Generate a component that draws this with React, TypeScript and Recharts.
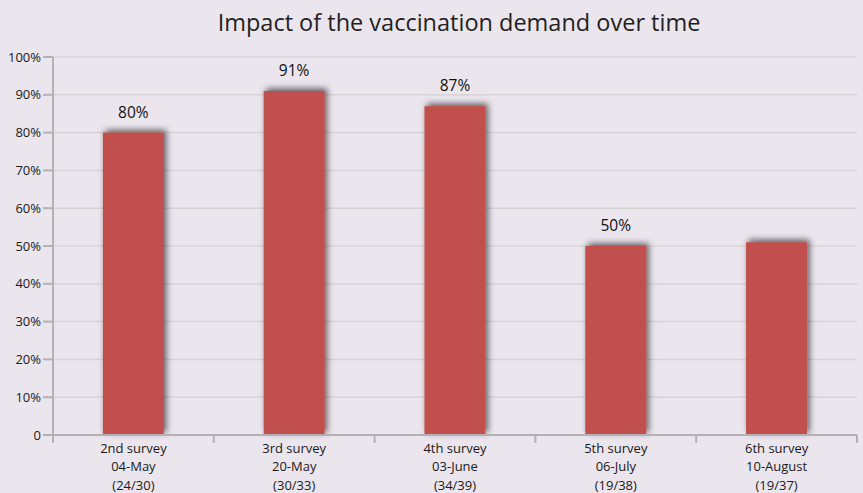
import { BarChart, Bar, XAxis, YAxis, CartesianGrid, LabelList } from "recharts";

const surveys = ["2nd survey", "3rd survey", "4th survey", "5th survey", "6th survey"];
const dates = ["04-May", "20-May", "03-June", "06-July", "10-August"];
const counts = ["(24/30)", "(30/33)", "(34/39)", "(19/38)", "(19/37)"];
const demand = [80, 91, 87, 50, 51];
const barLabels = ["80%", "91%", "87%", "50%", ""];
const yTicks = [0, 10, 20, 30, 40, 50, 60, 70, 80, 90, 100];

const data = surveys.map((s, i) => ({
  survey: s,
  date: dates[i],
  count: counts[i],
  value: demand[i],
  label: barLabels[i],
}));

const FONT = "'Open Sans', 'Noto Sans', sans-serif";
const AXIS = "#b4b0b5";

const XTick = (props: any) => {
  const { x, y, payload, index } = props;
  const half = payload.offset ?? 80;
  const row = data[index] ?? data[0];
  return (
    <g>
      <line x1={x - half} y1={y - 8} x2={x - half} y2={y} stroke={AXIS} strokeWidth={2} />
      {index === data.length - 1 && (
        <line x1={x + half} y1={y - 8} x2={x + half} y2={y} stroke={AXIS} strokeWidth={2} />
      )}
      <text x={x} textAnchor="middle" fontSize={13} fill="#1a1a1a" fontFamily={FONT}>
        <tspan x={x} y={y + 10}>{row.survey}</tspan>
        <tspan x={x} y={y + 28}>{row.date}</tspan>
        <tspan x={x} y={y + 47}>{row.count}</tspan>
      </text>
    </g>
  );
};

const ShadowBar = (props: any) => {
  const { x, y, width, height, fill } = props;
  if (!height) return null;
  return <rect x={x} y={y} width={width} height={height} fill={fill} filter="url(#barShadow)" />;
};

export default function App() {
  return (
    <div
      style={{
        position: "absolute",
        left: 0,
        top: 0,
        width: 863,
        height: 493,
        background: "#ebe5ed",
        overflow: "hidden",
      }}
    >
      <div
        style={{
          position: "absolute",
          top: 6,
          left: 0,
          width: 918,
          textAlign: "center",
          fontFamily: FONT,
          fontSize: 23.5,
          color: "#231f20",
        }}
      >
        Impact of the vaccination demand over time
      </div>
      <BarChart
        width={863}
        height={493}
        data={data}
        margin={{ top: 57, right: 6, left: 0, bottom: 3 }}
        barCategoryGap="31%"
      >
        <defs>
          <filter id="barShadow" x="-30%" y="-30%" width="160%" height="160%">
            <feDropShadow dx={2.5} dy={-2.5} stdDeviation={3} floodColor="#000" floodOpacity={0.6} />
          </filter>
        </defs>
        <CartesianGrid vertical={false} stroke="#d8d4d6" strokeWidth={1.5} />
        <XAxis
          dataKey="survey"
          height={55}
          axisLine={{ stroke: AXIS, strokeWidth: 2 }}
          tickLine={false}
          interval={0}
          tick={<XTick />}
        />
        <YAxis
          width={53}
          domain={[0, 100]}
          ticks={yTicks}
          interval={0}
          tickFormatter={(v: number) => (v === 0 ? "0" : `${v}%`)}
          axisLine={{ stroke: AXIS, strokeWidth: 2 }}
          tickLine={{ stroke: AXIS, strokeWidth: 2 }}
          tickSize={10}
          tick={{ fontSize: 13, fill: "#1a1a1a", fontFamily: FONT }}
        />
        <Bar dataKey="value" fill="#c0504d" isAnimationActive={false} shape={<ShadowBar />}>
          <LabelList
            dataKey="label"
            position="top"
            offset={15}
            style={{ fontSize: 15.5, fill: "#111", fontFamily: FONT }}
          />
        </Bar>
      </BarChart>
    </div>
  );
}
